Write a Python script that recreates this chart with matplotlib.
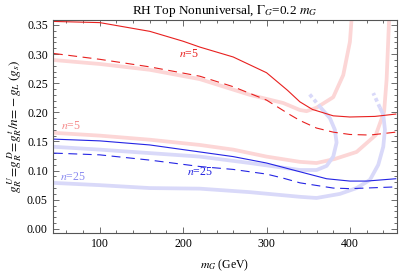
import matplotlib
matplotlib.use("Agg")
import matplotlib.pyplot as plt
from matplotlib.ticker import MultipleLocator

plt.rcParams['font.family'] = ['Liberation Serif', 'DejaVu Serif']
plt.rcParams['mathtext.fontset'] = 'stix'

# ---- data ----
red_solid_x = [45, 100, 160, 200, 220, 260, 300, 325, 340, 355, 380, 400, 430, 455]
red_solid_y = [0.356, 0.354, 0.339, 0.322, 0.312, 0.295, 0.268, 0.238, 0.218, 0.205, 0.194, 0.192, 0.193, 0.197]

red_dash_x = [45, 100, 160, 220, 260, 300, 328, 340, 360, 380, 400, 424, 455]
red_dash_y = [0.301, 0.291, 0.278, 0.262, 0.244, 0.221, 0.196, 0.186, 0.173, 0.166, 0.162, 0.161, 0.166]

blue_solid_x = [45, 100, 160, 220, 260, 300, 340, 372, 400, 420, 455]
blue_solid_y = [0.154, 0.151, 0.144, 0.132, 0.124, 0.113, 0.098, 0.086, 0.082, 0.082, 0.086]

blue_dash_x = [45, 100, 160, 220, 260, 300, 320, 340, 380, 400, 455]
blue_dash_y = [0.130, 0.127, 0.118, 0.107, 0.102, 0.094, 0.087, 0.079, 0.070, 0.069, 0.072]

pink1_x = [43, 100, 160, 220, 280, 320, 340, 348, 360, 380, 392, 400, 402]
pink1_y = [0.290, 0.283, 0.273, 0.257, 0.230, 0.216, 0.204, 0.202, 0.208, 0.226, 0.264, 0.321, 0.36]

pink2_x = [43, 100, 160, 220, 260, 300, 340, 360, 382, 408, 431, 441, 444, 447]
pink2_y = [0.165, 0.160, 0.153, 0.144, 0.136, 0.124, 0.115, 0.113, 0.120, 0.132, 0.161, 0.201, 0.256, 0.36]

lav1_x = [43, 100, 160, 220, 280, 340, 360, 372, 380, 384, 382, 376, 365]
lav1_y = [0.141, 0.136, 0.130, 0.124, 0.113, 0.101, 0.101, 0.108, 0.124, 0.148, 0.170, 0.190, 0.208]
lav1_tail_x = [365, 351]
lav1_tail_y = [0.208, 0.232]

lav2_x = [43, 100, 160, 220, 280, 340, 360, 388, 408, 424, 434, 440, 442, 440, 436]
lav2_y = [0.079, 0.075, 0.070, 0.069, 0.063, 0.055, 0.053, 0.060, 0.070, 0.084, 0.110, 0.141, 0.170, 0.196, 0.208]
lav2_tail_x = [436, 428]
lav2_tail_y = [0.208, 0.233]

labels = [
    (207, 0.300, 'n=5', '#e8201f'),
    (66, 0.177, 'n=5', '#f58a8a'),
    (68, 0.089, 'n=25', '#8a8af0'),
    (220, 0.098, 'n=25', '#2020e0'),
]

# ---- figure ----
fig = plt.figure(figsize=(3.99, 2.73), dpi=100)
ax = fig.add_axes([0.132, 0.147, 0.862, 0.780])

pink = '#fcd6d6'
lav = '#d9d9f9'
bw = 2.7
ax.plot(pink1_x, pink1_y, color=pink, lw=bw, solid_capstyle='butt')
ax.plot(pink2_x, pink2_y, color=pink, lw=bw, solid_capstyle='butt')
ax.plot(lav1_x, lav1_y, color=lav, lw=bw, solid_capstyle='butt')
ax.plot(lav1_tail_x, lav1_tail_y, color=lav, lw=bw, dashes=(1.0, 0.8))
ax.plot(lav2_x, lav2_y, color=lav, lw=bw, solid_capstyle='butt')
ax.plot(lav2_tail_x, lav2_tail_y, color=lav, lw=bw, dashes=(1.0, 0.8))

red = '#e8201f'
blue = '#2424e4'
ax.plot(red_solid_x, red_solid_y, color=red, lw=0.8)
ax.plot(red_dash_x, red_dash_y, color=red, lw=0.8, dashes=(8, 5))
ax.plot(blue_solid_x, blue_solid_y, color=blue, lw=0.8)
ax.plot(blue_dash_x, blue_dash_y, color=blue, lw=0.8, dashes=(8, 5))

for x, y, t, c in labels:
    n, rest = t.split('=')
    ax.text(x, y, r'$n$=' + rest, color=c, fontsize=8.5, ha='center', va='center')

ax.set_xlim(43.5, 456)
ax.set_ylim(-0.0069, 0.3586)
ax.xaxis.set_major_locator(MultipleLocator(100))
ax.xaxis.set_minor_locator(MultipleLocator(20))
ax.yaxis.set_major_locator(MultipleLocator(0.05))
ax.yaxis.set_minor_locator(MultipleLocator(0.01))
ax.yaxis.set_major_formatter(matplotlib.ticker.FormatStrFormatter('%.2f'))
ax.tick_params(which='both', direction='in', top=True, right=True, colors='#555555',
               labelcolor='black', labelsize=8.5, width=0.6)
ax.tick_params(which='major', length=4)
ax.tick_params(which='minor', length=2)
for s in ax.spines.values():
    s.set_color('#555555')
    s.set_linewidth(0.8)

ax.set_title(r'RH Top Nonuniversal, $\Gamma_G$=0.2 $m_G$', fontsize=9.5, pad=4)
ax.set_xlabel(r'$m_G$ (GeV)', fontsize=8.5, labelpad=6)
ax.set_ylabel(r'$g_R^{\,U}\!=\!g_R^{\,D}\!=\!g_R^{\,t}/n\!=\!-g_L\;(g_s)$', fontsize=9.5, labelpad=2)

fig.savefig('out.png', dpi=100)
